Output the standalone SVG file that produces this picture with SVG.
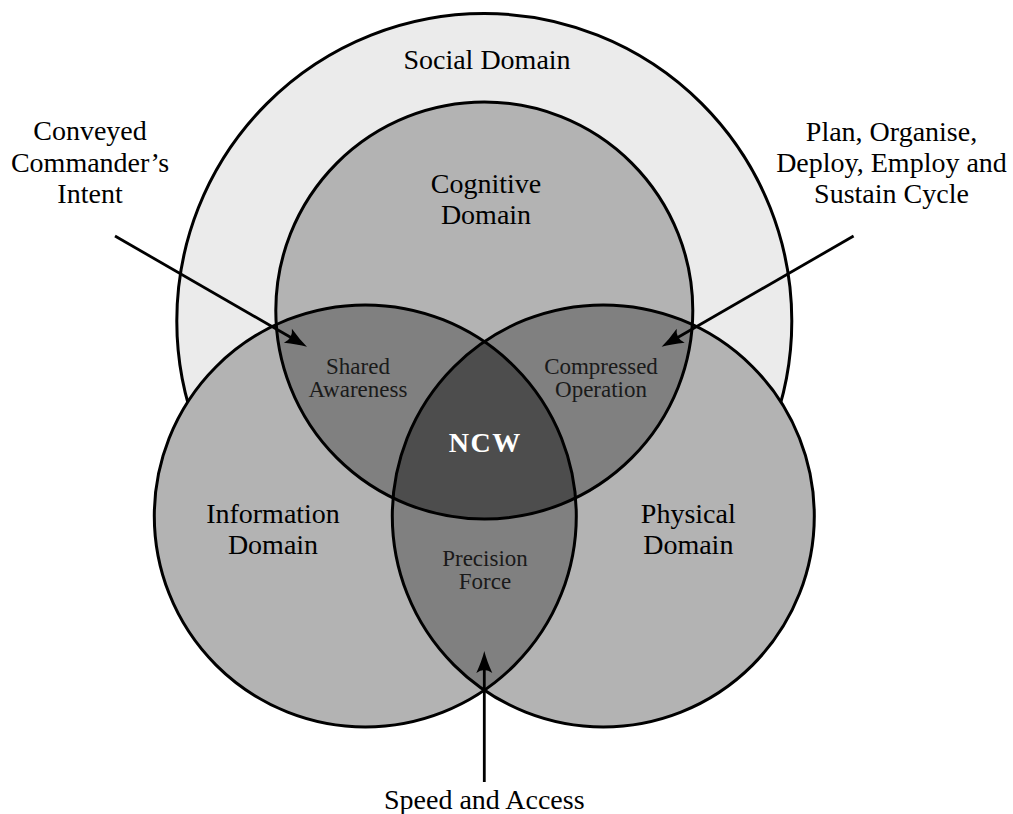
<svg xmlns="http://www.w3.org/2000/svg" width="1013" height="814" viewBox="0 0 1013 814">
  <style>
    .lbl { font-family: "Liberation Serif", "Times New Roman", serif; font-size: 28px; text-anchor: middle; fill: #000; }
    .sm { font-size: 23px; fill: #1a1a1a; }
    .bold { font-weight: bold; fill: #fff; letter-spacing: 1.5px; }
    .ol { fill: none; stroke: #000; stroke-width: 3; }
    .edge { fill: none; stroke: #000; stroke-width: 2.8; }
  </style>
  <defs>
    <clipPath id="clipCog"><circle cx="484.3" cy="310.5" r="208.5"/></clipPath>
    <clipPath id="clipInfo"><circle cx="365.3" cy="515.9" r="211"/></clipPath>
    <marker id="arr" markerUnits="userSpaceOnUse" viewBox="-24 -10 26 20" markerWidth="26" markerHeight="20" refX="-10" refY="0" orient="auto" overflow="visible">
      <path d="M0,0 Q-10,-2.5 -22,-8 Q-16,0 -22,8 Q-10,2.5 0,0 Z" fill="#000"/>
    </marker>
  </defs>
  <rect x="0" y="0" width="1013" height="814" fill="#fff"/>

  <g id="social">
    <circle cx="484.3" cy="321" r="307.5" fill="#ebebeb" stroke="#000" stroke-width="3"/>
    <text class="lbl" x="487" y="68.5">Social Domain</text>
  </g>
  <g id="cognitive">
    <circle cx="484.3" cy="310.5" r="208.5" fill="#b3b3b3"/>
    <text class="lbl" x="486" y="193.3">Cognitive</text>
    <text class="lbl" x="486" y="224.3">Domain</text>
  </g>
  <g id="information">
    <circle cx="365.3" cy="515.9" r="211" fill="#b3b3b3"/>
    <text class="lbl" x="273" y="523.3">Information</text>
    <text class="lbl" x="273" y="554.3">Domain</text>
  </g>
  <g id="physical">
    <circle cx="603.3" cy="515.9" r="211" fill="#b3b3b3"/>
    <text class="lbl" x="688.3" y="523.3">Physical</text>
    <text class="lbl" x="688.3" y="554.3">Domain</text>
  </g>
  <g id="shared-awareness">
    <circle cx="365.3" cy="515.9" r="211" fill="#808080" clip-path="url(#clipCog)"/>
    <text class="lbl sm" x="358" y="374">Shared</text>
    <text class="lbl sm" x="358" y="397.3">Awareness</text>
  </g>
  <g id="compressed-operation">
    <circle cx="603.3" cy="515.9" r="211" fill="#808080" clip-path="url(#clipCog)"/>
    <text class="lbl sm" x="601" y="374">Compressed</text>
    <text class="lbl sm" x="601" y="397.3">Operation</text>
  </g>
  <g id="precision-force">
    <circle cx="603.3" cy="515.9" r="211" fill="#808080" clip-path="url(#clipInfo)"/>
    <text class="lbl sm" x="485" y="565.7">Precision</text>
    <text class="lbl sm" x="485" y="589.3">Force</text>
  </g>
  <g id="ncw">
    <g clip-path="url(#clipCog)">
      <circle cx="603.3" cy="515.9" r="211" fill="#4d4d4d" clip-path="url(#clipInfo)"/>
    </g>
    <text class="lbl bold" x="485.3" y="451.7">NCW</text>
  </g>
  <g id="outlines">
    <circle class="ol" cx="484.3" cy="310.5" r="208.5"/>
    <circle class="ol" cx="365.3" cy="515.9" r="211"/>
    <circle class="ol" cx="603.3" cy="515.9" r="211"/>
  </g>

  <g id="commanders-intent">
    <text class="lbl" x="90" y="140">Conveyed</text>
    <text class="lbl" x="90" y="171.7">Commander’s</text>
    <text class="lbl" x="90" y="202.7">Intent</text>
  </g>
  <g id="podes-cycle">
    <text class="lbl" x="891.5" y="140.7">Plan, Organise,</text>
    <text class="lbl" x="891.5" y="171.7">Deploy, Employ and</text>
    <text class="lbl" x="891.5" y="202.7">Sustain Cycle</text>
  </g>
  <g id="speed-access">
    <text class="lbl" x="484.3" y="809">Speed and Access</text>
  </g>

  <g id="connectors">
    <path class="edge" d="M115,236 L298.3,341.8" marker-end="url(#arr)"/>
    <path class="edge" d="M853.6,236 L670.3,341.8" marker-end="url(#arr)"/>
    <path class="edge" d="M484.3,782 L484.3,661" marker-end="url(#arr)"/>
  </g>
</svg>
